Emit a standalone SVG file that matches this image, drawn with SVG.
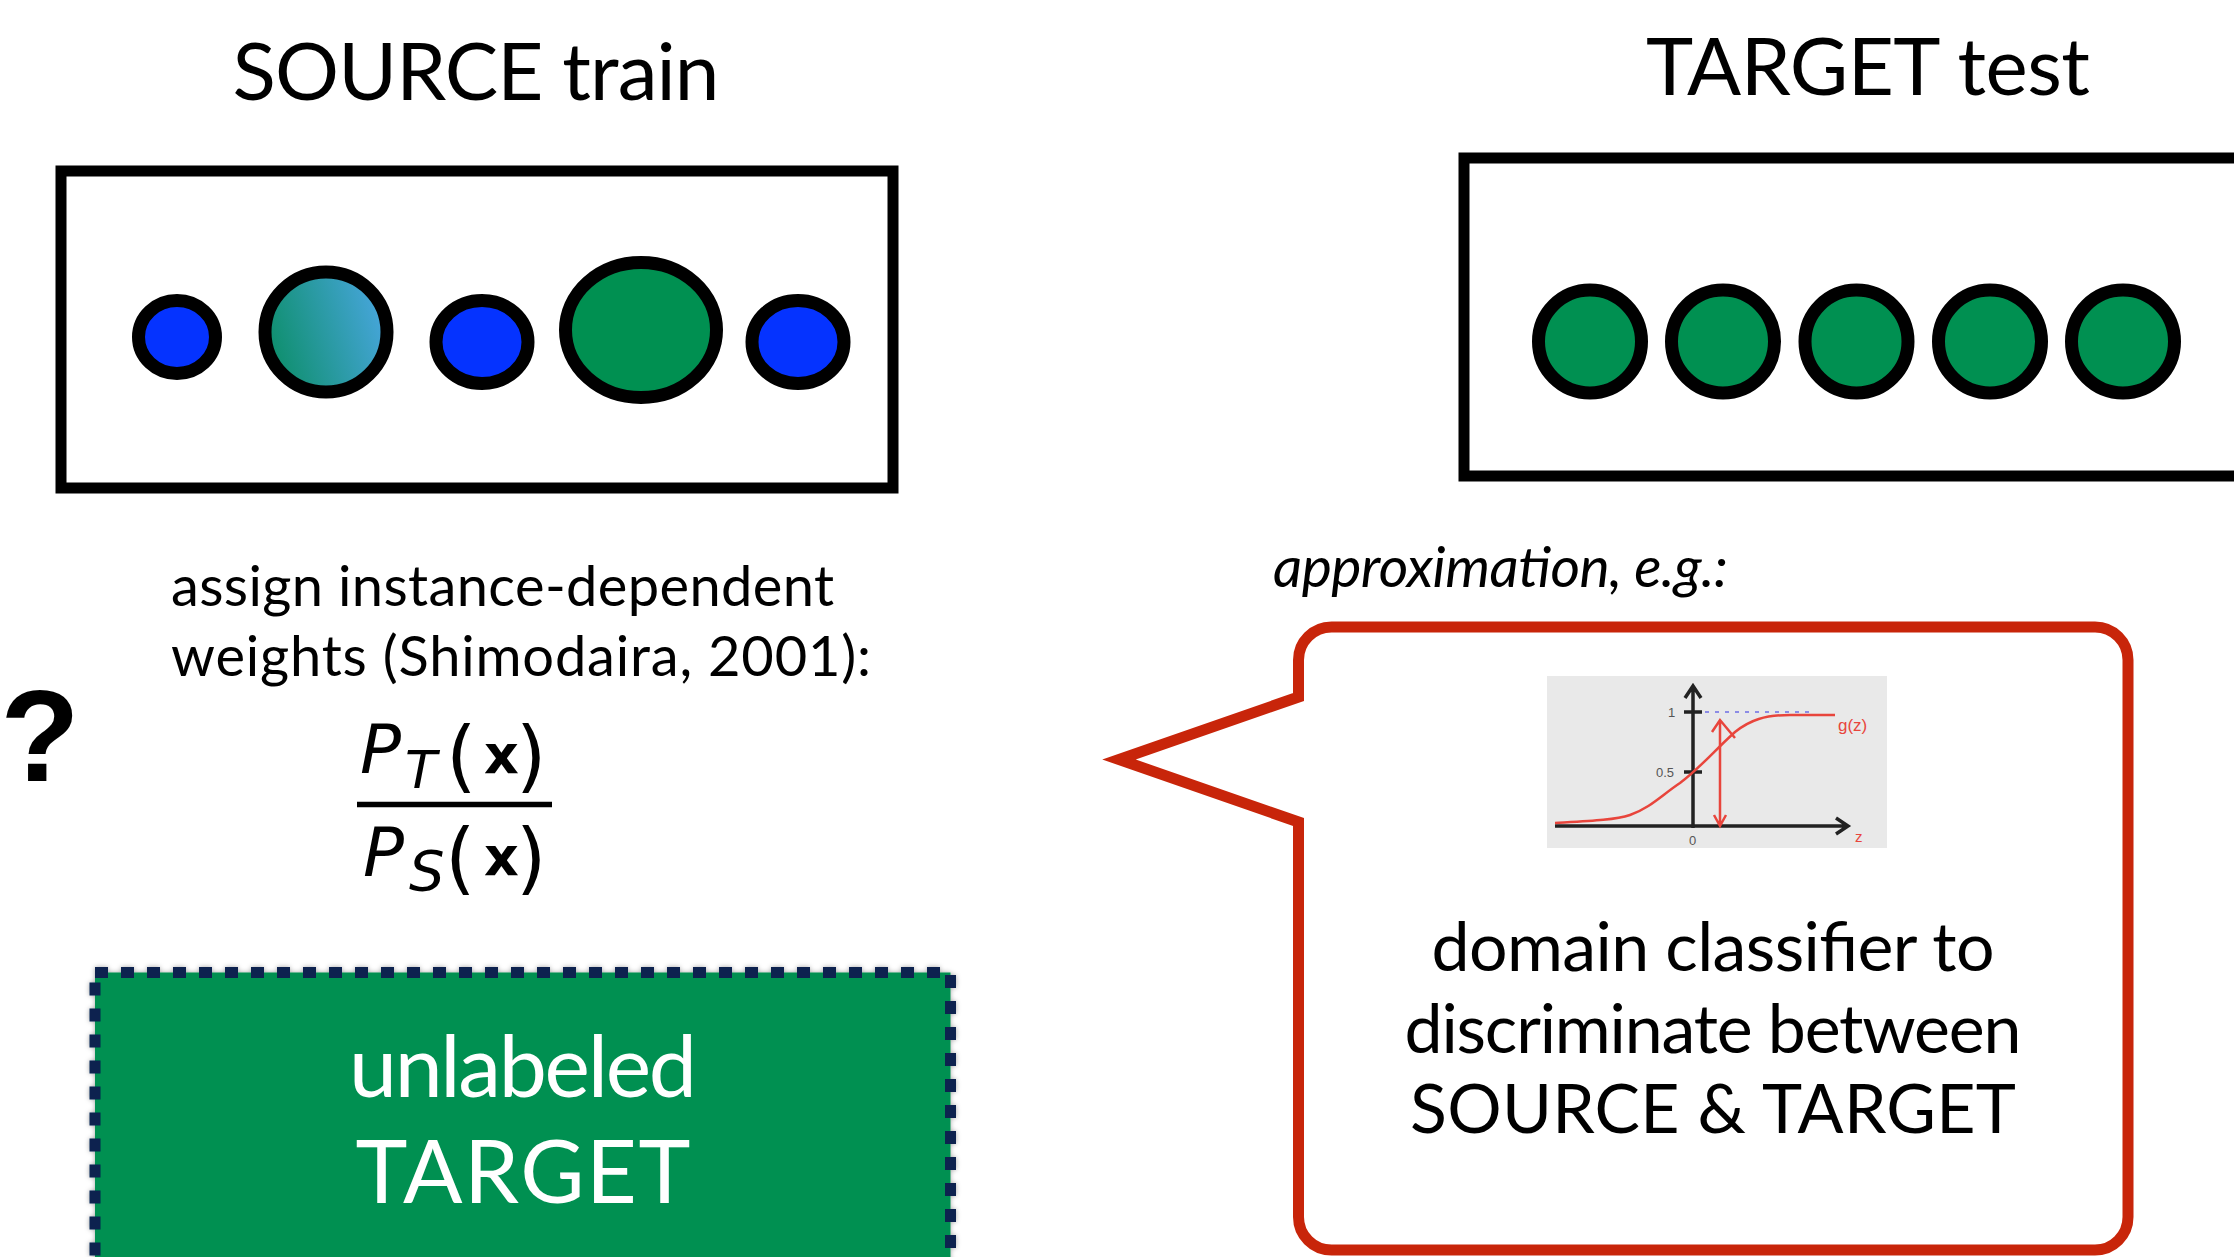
<svg xmlns="http://www.w3.org/2000/svg" width="2234" height="1257" viewBox="0 0 2234 1257">
<style>
.t{font-family:Lato,"Open Sans","Liberation Sans",sans-serif;fill:#000}
.box{fill:#fff;stroke:#000;stroke-width:11}
.dot{stroke:#000;stroke-width:13}
.blue{fill:#0533ff}
.green{fill:#009051}
.m{font-family:"DejaVu Sans",sans-serif;fill:#000}
.red{stroke:#e8453c;fill:none;stroke-width:2.5}
.small{font-family:"Liberation Sans",sans-serif;fill:#555;font-size:13px}
</style>
<defs>
<linearGradient id="teal" x1="0" y1="0.65" x2="1" y2="0.35">
<stop offset="0" stop-color="#0c8e68"/>
<stop offset="1" stop-color="#48a6de"/>
</linearGradient>
<filter id="shadow" x="-5%" y="-5%" width="110%" height="110%">
<feDropShadow dx="0" dy="0" stdDeviation="2.5" flood-color="#000" flood-opacity="0.35"/>
</filter>
</defs>
<rect width="2234" height="1257" fill="#fff"/>

<g id="title-source">
<text class="t" x="476" y="100" font-size="80" text-anchor="middle" textLength="487">SOURCE train</text>
</g>

<g id="source-box">
<rect class="box" x="61" y="171" width="832" height="317"/>
<ellipse class="dot blue" cx="177" cy="337" rx="38.5" ry="36.5"/>
<ellipse class="dot" fill="url(#teal)" cx="326" cy="332" rx="61" ry="60"/>
<ellipse class="dot blue" cx="482" cy="342" rx="46" ry="41.5"/>
<ellipse class="dot green" cx="641" cy="330" rx="75.5" ry="67.5"/>
<ellipse class="dot blue" cx="798" cy="342" rx="46" ry="41.5"/>
</g>

<g id="title-target">
<text class="t" x="1868" y="95" font-size="80" text-anchor="middle" textLength="444">TARGET test</text>
</g>

<g id="target-box">
<rect class="box" x="1464" y="158" width="820" height="318"/>
<circle class="dot green" cx="1590" cy="341.5" r="51.5"/>
<circle class="dot green" cx="1723" cy="341.5" r="51.5"/>
<circle class="dot green" cx="1856.5" cy="341.5" r="51.5"/>
<circle class="dot green" cx="1990" cy="341.5" r="51.5"/>
<circle class="dot green" cx="2123" cy="341.5" r="51.5"/>
</g>

<g id="weights-text">
<text class="t" x="171" y="606" font-size="56" textLength="663">assign instance-dependent</text>
<text class="t" x="171" y="676" font-size="56" textLength="700">weights (Shimodaira, 2001):</text>
</g>

<g id="question">
<text x="40" y="781" font-family="Liberation Sans,sans-serif" font-weight="bold" font-size="130" text-anchor="middle">?</text>
</g>

<g id="fraction">
<text class="m"><tspan x="360" y="773" font-size="68" font-style="italic">P</tspan><tspan x="405" y="788" font-size="52" font-style="italic">T</tspan><tspan x="446" y="783" font-size="78">(</tspan><tspan x="484" y="773" font-size="54" font-weight="bold">x</tspan><tspan x="516" y="783" font-size="78">)</tspan></text>
<line x1="357" y1="804.5" x2="552" y2="804.5" stroke="#000" stroke-width="5.5"/>
<text class="m"><tspan x="363" y="876" font-size="68" font-style="italic">P</tspan><tspan x="409" y="890" font-size="56" font-style="italic">S</tspan><tspan x="445" y="885" font-size="78">(</tspan><tspan x="484" y="875" font-size="54" font-weight="bold">x</tspan><tspan x="516" y="885" font-size="78">)</tspan></text>
</g>

<g id="unlabeled-target">
<rect x="95" y="972.5" width="855.5" height="300" fill="#009051" stroke="#0c2450" stroke-width="11" stroke-dasharray="13 13" filter="url(#shadow)"/>
<text class="t" x="523" y="1097" font-size="86" style="fill:#fff" text-anchor="middle" textLength="348">unlabeled</text>
<text class="t" x="523" y="1203" font-size="88" style="fill:#fff" text-anchor="middle" textLength="335">TARGET</text>
</g>

<g id="approx-label">
<text class="t" x="1273" y="587" font-size="57" font-style="italic" textLength="455">approximation, e.g.:</text>
</g>

<g id="bubble">
<path d="M1331.5,627 H2095 A33,33 0 0 1 2128,660 V1217 A33,33 0 0 1 2095,1250 H1331.5 A33,33 0 0 1 1298.5,1217 V822 L1119,759.5 L1298.5,697 V660 A33,33 0 0 1 1331.5,627 Z" fill="#fff" stroke="#c8250a" stroke-width="11"/>
<g id="sigmoid-plot">
<rect x="1547" y="676" width="340" height="172" fill="#e9e9e9"/>
<line x1="1705" y1="712" x2="1815" y2="712" stroke="#8c8ce6" stroke-width="2" stroke-dasharray="4 6"/>
<path d="M1555,826 H1846 M1836,818 L1848,826 L1836,834 M1693,828 V686 M1685,698 L1693,686 L1701,698 M1684,712 H1702 M1684,772 H1702" stroke="#222" stroke-width="3.5" fill="none"/>
<path class="red" d="M1555,823 C1590,821 1615,820 1630,815 C1650,808 1662,795 1680,783 C1700,768 1715,750 1735,732 C1750,720 1765,715 1790,715 L1835,715"/>
<path class="red" d="M1720,826 V720 M1712,732 L1720,720 L1735,738 M1714,815 L1720,826 L1726,815" stroke-width="2"/>
<text class="small" x="1668" y="717">1</text>
<text class="small" x="1656" y="777">0.5</text>
<text class="small" x="1689" y="845" font-size="11">0</text>
<text x="1838" y="731" font-family="Liberation Sans,sans-serif" font-size="17" fill="#e8453c">g(z)</text>
<text x="1855" y="842" font-family="Liberation Sans,sans-serif" font-size="15" fill="#e8453c">z</text>
</g>
<text class="t" x="1713" y="971" font-size="68" text-anchor="middle" textLength="563">domain classifier to</text>
<text class="t" x="1713" y="1053" font-size="68" text-anchor="middle" textLength="617">discriminate between</text>
<text class="t" x="1713" y="1133" font-size="68" text-anchor="middle" textLength="606">SOURCE &amp; TARGET</text>
</g>

<g id="connectors"/>
</svg>
